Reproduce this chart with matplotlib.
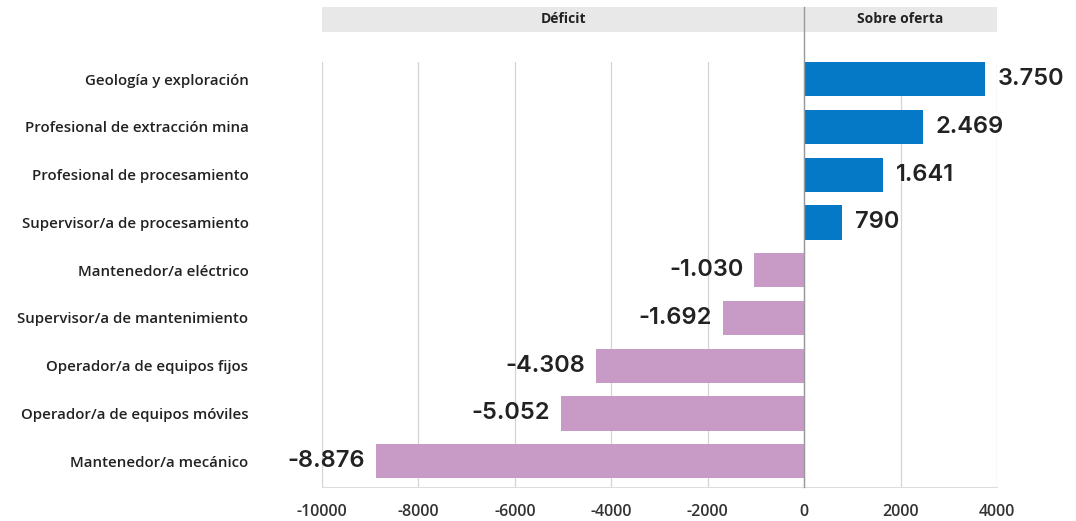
import matplotlib
matplotlib.use("Agg")
import matplotlib.pyplot as plt
from matplotlib.patches import Rectangle
import matplotlib.transforms as mtransforms

categories = [
    "Geología y exploración",
    "Profesional de extracción mina",
    "Profesional de procesamiento",
    "Supervisor/a de procesamiento",
    "Mantenedor/a eléctrico",
    "Supervisor/a de mantenimiento",
    "Operador/a de equipos fijos",
    "Operador/a de equipos móviles",
    "Mantenedor/a mecánico",
]
values = [3750, 2469, 1641, 790, -1030, -1692, -4308, -5052, -8876]
xticks = [-10000, -8000, -6000, -4000, -2000, 0, 2000, 4000]
xtick_labels = ["-10000", "-8000", "-6000", "-4000", "-2000", "0", "2000", "4000"]
header_left = "Déficit"
header_right = "Sobre oferta"

BLUE = "#0679C6"
PURPLE = "#C89AC6"
LABEL_FONT = ["Open Sans", "DejaVu Sans"]
VALUE_FONT = ["Inter", "DejaVu Sans"]
plt.rcParams["font.family"] = LABEL_FONT
plt.rcParams["axes.unicode_minus"] = False

fig = plt.figure(figsize=(10.76, 5.21), dpi=100)
ax = fig.add_axes([322 / 1076, 1 - 487 / 521, (997 - 322) / 1076, (487 - 62) / 521])

y = list(range(len(categories)))
colors = [BLUE if v > 0 else PURPLE for v in values]
ax.barh(y, values, height=0.72, color=colors, zorder=3)

ax.set_xlim(-10000, 4000)
ax.set_ylim(len(categories) - 1 + 0.54, -0.36)
ax.set_yticks(y)
ax.set_yticklabels(categories, fontsize=10.8, fontweight="semibold", color="#222222")
ax.set_xticks(xticks)
ax.set_xticklabels(xtick_labels, fontsize=11.5, fontweight="semibold", color="#333333")
ax.tick_params(axis="y", length=0, pad=53)
ax.tick_params(axis="x", length=0, pad=12)
for s in ax.spines.values():
    s.set_visible(False)
ax.spines["bottom"].set_visible(True)
ax.spines["bottom"].set_color("#dddddd")
ax.grid(axis="x", color="#d4d4d4", linewidth=0.9, zorder=0)
ax.set_axisbelow(True)

for yi, v in zip(y, values):
    txt = f"{v:,}".replace(",", ".")
    if v > 0:
        ax.annotate(txt, (v, yi), xytext=(9, 0), textcoords="offset points",
                    ha="left", va="center", fontsize=17, fontweight="semibold",
                    color="#222222", family=VALUE_FONT)
    else:
        ax.annotate(txt, (v, yi), xytext=(-8, 0), textcoords="offset points",
                    ha="right", va="center", fontsize=17, fontweight="semibold",
                    color="#222222", annotation_clip=False, family=VALUE_FONT)

trans = mtransforms.blended_transform_factory(ax.transData, ax.transAxes)
band_y0 = (487 - 32) / 425
band_y1 = (487 - 7) / 425
ax.add_patch(Rectangle((-10000, band_y0), 10000, band_y1 - band_y0, transform=trans,
                       facecolor="#e8e8e8", edgecolor="none", clip_on=False, zorder=1))
ax.add_patch(Rectangle((0, band_y0), 4000, band_y1 - band_y0, transform=trans,
                       facecolor="#e8e8e8", edgecolor="none", clip_on=False, zorder=1))
ax.text(-5000, (band_y0 + band_y1) / 2, header_left, transform=trans, ha="center",
        va="center", fontsize=10, fontweight="bold", color="#222222", family=LABEL_FONT)
ax.text(2000, (band_y0 + band_y1) / 2, header_right, transform=trans, ha="center",
        va="center", fontsize=10, fontweight="bold", color="#222222", family=LABEL_FONT)
ax.plot([0, 0], [0, band_y1], transform=trans, color="#999999", linewidth=1,
        clip_on=False, zorder=4)

fig.savefig("out.png", dpi=100, facecolor="white")
